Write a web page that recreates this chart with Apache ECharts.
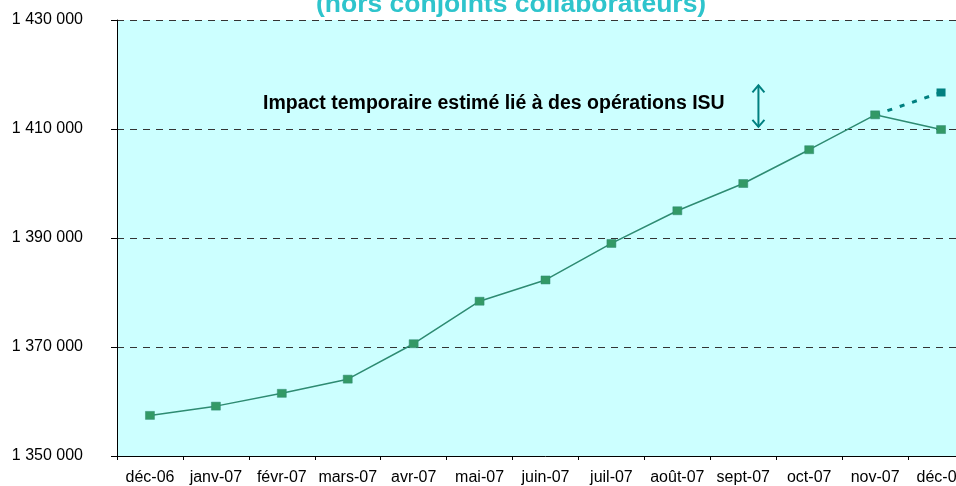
<!DOCTYPE html>
<html><head><meta charset="utf-8">
<script src="https://cdn.jsdelivr.net/npm/echarts@6/dist/echarts.min.js"></script>
<style>html,body{margin:0;padding:0;background:#fff;overflow:hidden}#c{width:980px;height:486px}</style>
</head><body><div id="c"></div>
<script>
var categories = ['déc-06','janv-07','févr-07','mars-07','avr-07','mai-07','juin-07','juil-07','août-07','sept-07','oct-07','nov-07','déc-07'];
var effectifs = [1357450,1359150,1361500,1364100,1370600,1378400,1382300,1389000,1395000,1400000,1406200,1412600,1409900];
var horsImpact = [null,null,null,null,null,null,null,null,null,null,null,1412600,1416700];
var yTicks = [1350000,1370000,1390000,1410000,1430000];
var titleText = '(hors conjoints collaborateurs)';
var noteText = 'Impact temporaire estimé lié à des opérations ISU';
var arrowRange = [1418000,1410400];

var chart = echarts.init(document.getElementById('c'));
function fmt(v){return String(v).replace(/\B(?=(\d{3})+(?!\d))/g,' ');}
var font = 'Liberation Sans, Arial, sans-serif';
chart.setOption({
  animation:false,
  backgroundColor:'#ffffff',
  grid:{left:117,top:20,width:857,height:440,show:true,backgroundColor:'#CCFFFF',borderWidth:0},
  xAxis:{type:'category',data:categories,boundaryGap:true,
    axisLine:{lineStyle:{color:'#000',width:1}},
    axisTick:{show:true,length:4,lineStyle:{color:'#000'}},
    axisLabel:{color:'#000',fontFamily:font,fontSize:16,margin:14,interval:0},
    splitLine:{show:false}},
  yAxis:{type:'value',min:yTicks[0],max:yTicks[yTicks.length-1],interval:yTicks[1]-yTicks[0],
    axisLine:{show:true,lineStyle:{color:'#000',width:1}},
    axisTick:{show:true,length:6,lineStyle:{color:'#000'}},
    axisLabel:{color:'#000',fontFamily:font,fontSize:16,margin:34,formatter:fmt},
    splitLine:{show:true,lineStyle:{color:'#333',width:1,type:[7,6]}}},
  series:[
    {type:'line',data:effectifs,symbol:'rect',symbolSize:[9,8],
     lineStyle:{color:'#2E8B72',width:1.5},
     itemStyle:{color:'#339966',borderColor:'#2E8B72',borderWidth:0.5},z:3},
    {type:'line',data:horsImpact.map(function(v,i){return i===11?{value:v,symbol:'none'}:v;}),
     symbol:'rect',symbolSize:[9,8],connectNulls:false,
     lineStyle:{color:'#008080',width:3,type:[5,8]},
     itemStyle:{color:'#008080'},z:2}
  ]
});

var a = chart.convertToPixel({gridIndex:0},[9,arrowRange[0]]);
var b = chart.convertToPixel({gridIndex:0},[10,arrowRange[1]]);
var ax = a[0] + (b[0]-a[0])*0.23;
var y1 = a[1], y2 = b[1];
var teal = '#008080';
chart.setOption({graphic:[
  {type:'text',left:316,top:-9,style:{text:titleText,fill:'#2EC4CC',font:'bold 26.5px '+font}},
  {type:'text',left:263,top:94,style:{text:noteText,fill:'#000',font:'bold 19.5px '+font}},
  {type:'line',shape:{x1:ax,y1:y1,x2:ax,y2:y2},style:{stroke:teal,lineWidth:2}},
  {type:'polyline',shape:{points:[[ax-6,y1+7],[ax,y1],[ax+6,y1+7]]},style:{stroke:teal,lineWidth:2,fill:null}},
  {type:'polyline',shape:{points:[[ax-6,y2-7],[ax,y2],[ax+6,y2-7]]},style:{stroke:teal,lineWidth:2,fill:null}}
]});
</script></body></html>
